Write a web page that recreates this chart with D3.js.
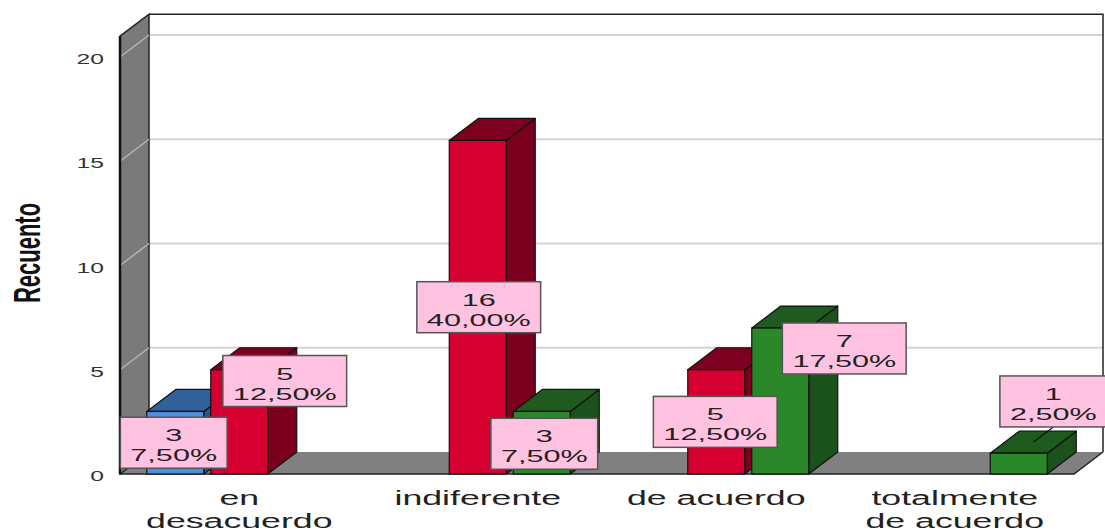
<!DOCTYPE html>
<html>
<head>
<meta charset="utf-8">
<script src="https://cdn.jsdelivr.net/npm/d3@7"></script>
<style>
  html, body { margin: 0; padding: 0; background: #ffffff; }
  svg { display: block; }
  text { font-family: "Liberation Sans", Arial, sans-serif; }
</style>
</head>
<body>
<svg id="chart" width="1105" height="531"></svg>
<script>
// ---- data ----
const categories = ["en desacuerdo", "indiferente", "de acuerdo", "totalmente de acuerdo"];
const categoryLines = [["en", "desacuerdo"], ["indiferente"], ["de acuerdo"], ["totalmente", "de acuerdo"]];
const seriesNames = ["serie1", "serie2", "serie3"];
const blueValues = [3, 0, 0, 0];
const redValues = [5, 16, 5, 0];
const greenValues = [0, 3, 7, 1];
const yTicks = [0, 5, 10, 15, 20];
const yMax = 21;
const yTitle = "Recuento";

// ---- label layout (not data): offset in px from bar centre, centre height in axis units ----
const labelLayout = [
  { s: 0, c: 0, dx: -1.5, v: 1.5 },
  { s: 1, c: 0, dx: 45.5, v: 4.46 },
  { s: 1, c: 1, dx: 1, v: 8 },
  { s: 2, c: 1, dx: 2.5, v: 1.45 },
  { s: 1, c: 2, dx: -1, v: 2.5 },
  { s: 2, c: 2, dx: 64, v: 6.02 },
  { s: 2, c: 3, dx: 34.5, v: 3.48, leader: true }
];

// ---- styles ----
const seriesValues = [blueValues, redValues, greenValues];
const frontColors = ["#4d8fdf", "#d60030", "#2a882a"];
const topColors = ["#31619b", "#7e0020", "#1f5a1f"];
const sideColors = ["#2a5488", "#7a001e", "#1b521b"];
const SX = 1.7;      // horizontal stretch of the picture's text
const SXL = 1.8;     // stretch for value labels
const DX = 29, DY = 22;
const total = d3.sum(seriesValues.flat());
const loc = d3.formatLocale({ decimal: ",", thousands: ".", grouping: [3], currency: ["", "€"], percent: "%" });
const fmtPct = loc.format(".2%");

const svg = d3.select("#chart");
svg.append("rect").attr("width", 1105).attr("height", 531).attr("fill", "#ffffff");

const y = d3.scaleLinear().domain([0, yMax]).range([474, 474 - yMax * 20.85]);
const xCat = d3.scaleBand().domain(categories).range([120, 1074]);
const xSer = d3.scaleBand().domain(seriesNames).range([-92.5, 92.5]).paddingInner(0.11);

const xL = xCat.range()[0], xR = xCat.range()[1];
const yB = y(0), yT = y(yMax);

// back wall
svg.append("rect")
  .attr("x", xL + DX).attr("y", yT - DY)
  .attr("width", xR - xL).attr("height", yB - yT)
  .attr("fill", "#ffffff");
svg.append("g").selectAll("line").data(yTicks.filter(t => t > 0)).join("line")
  .attr("x1", xL + DX).attr("x2", xR + DX)
  .attr("y1", d => y(d) - DY).attr("y2", d => y(d) - DY)
  .attr("stroke", "#d4d4d4").attr("stroke-width", 2);
svg.append("path")
  .attr("d", `M${xL + DX},${yT - DY} L${xR + DX},${yT - DY} L${xR + DX},${yB - DY}`)
  .attr("fill", "none").attr("stroke", "#222").attr("stroke-width", 1.5);

// floor
svg.append("path")
  .attr("d", `M${xL},${yB} L${xR},${yB} L${xR + DX},${yB - DY} L${xL + DX},${yB - DY} Z`)
  .attr("fill", "#808080");
svg.append("path")
  .attr("d", `M${xL},${yB} L${xR},${yB} L${xR + DX},${yB - DY}`)
  .attr("fill", "none").attr("stroke", "#222").attr("stroke-width", 1.5);

// left wall
svg.append("path")
  .attr("d", `M${xL},${yT} L${xL + DX},${yT - DY} L${xL + DX},${yB - DY} L${xL},${yB} Z`)
  .attr("fill", "#7a7a7a").attr("stroke", "#222").attr("stroke-width", 1.5);
svg.append("g").selectAll("line").data(yTicks.filter(t => t > 0)).join("line")
  .attr("x1", xL).attr("x2", xL + DX)
  .attr("y1", d => y(d)).attr("y2", d => y(d) - DY)
  .attr("stroke", "#b5b5b5").attr("stroke-width", 1.5);
svg.append("line")
  .attr("x1", xL).attr("x2", xL).attr("y1", yT).attr("y2", yB)
  .attr("stroke", "#111").attr("stroke-width", 2.5);

// bars
const bars = [];
categories.forEach((c, ci) => {
  seriesNames.forEach((s, si) => {
    const v = seriesValues[si][ci];
    if (v > 0) bars.push({ c, ci, s, si, v });
  });
});
function barGeom(d) {
  const bx = xCat(d.c) + xCat.bandwidth() / 2 + xSer(d.s);
  const bw = xSer.bandwidth();
  return { bx, bw, top: y(d.v), base: y(0) };
}
const gBars = svg.append("g");
bars.forEach(d => {
  const g = barGeom(d);
  const grp = gBars.append("g");
  grp.append("path")
    .attr("d", `M${g.bx + g.bw},${g.top} L${g.bx + g.bw + DX},${g.top - DY} L${g.bx + g.bw + DX},${g.base - DY} L${g.bx + g.bw},${g.base} Z`)
    .attr("fill", sideColors[d.si]).attr("stroke", "#111").attr("stroke-width", 1.2).attr("stroke-linejoin", "round");
  grp.append("path")
    .attr("d", `M${g.bx},${g.top} L${g.bx + g.bw},${g.top} L${g.bx + g.bw + DX},${g.top - DY} L${g.bx + DX},${g.top - DY} Z`)
    .attr("fill", topColors[d.si]).attr("stroke", "#111").attr("stroke-width", 1.2).attr("stroke-linejoin", "round");
  grp.append("rect")
    .attr("x", g.bx).attr("y", g.top).attr("width", g.bw).attr("height", g.base - g.top)
    .attr("fill", frontColors[d.si]).attr("stroke", "#111").attr("stroke-width", 1.2);
});

// y tick labels
svg.append("g").selectAll("text").data(yTicks).join("text")
  .attr("transform", d => `translate(104,${y(d) + 7}) scale(${SX},1)`)
  .attr("text-anchor", "end")
  .attr("font-size", 14.5).attr("fill", "#333")
  .text(d => d);

// y title
svg.append("text")
  .attr("transform", `translate(27,253) rotate(-90) scale(1,${SX})`)
  .attr("text-anchor", "middle").attr("dominant-baseline", "central")
  .attr("font-size", 22).attr("font-weight", "bold").attr("fill", "#111")
  .text(yTitle);

// category labels
categories.forEach((c, ci) => {
  const cx = xCat(c) + xCat.bandwidth() / 2;
  categoryLines[ci].forEach((line, li) => {
    svg.append("text")
      .attr("transform", `translate(${cx},${505 + li * 23}) scale(${SX},1)`)
      .attr("text-anchor", "middle")
      .attr("font-size", 21).attr("fill", "#222")
      .text(line);
  });
});

// value labels
const gLab = svg.append("g");
labelLayout.forEach(L => {
  const d = { c: categories[L.c], ci: L.c, s: seriesNames[L.s], si: L.s, v: seriesValues[L.s][L.c] };
  const g = barGeom(d);
  const cx = g.bx + g.bw / 2 + L.dx;
  const cy = y(L.v);
  const bh = 51;
  const lines = [String(d.v), fmtPct(d.v / total)];
  const grp = gLab.append("g");
  const box = grp.append("rect");
  const texts = lines.map((t, i) => grp.append("text")
    .attr("transform", `translate(${cx},${cy - bh / 2 + 24 + i * 20}) scale(${SXL},1)`)
    .attr("text-anchor", "middle")
    .attr("font-size", 17).attr("fill", "#222")
    .text(t));
  const tw = d3.max(texts, t => t.node().getComputedTextLength()) * SXL;
  const bwid = tw + 20;
  box.attr("x", cx - bwid / 2).attr("y", cy - bh / 2).attr("width", bwid).attr("height", bh)
    .attr("fill", "#ffc2e0").attr("stroke", "#555").attr("stroke-width", 1.5);
  if (L.leader) {
    grp.insert("line", "rect")
      .attr("x1", cx).attr("y1", cy + bh / 2)
      .attr("x2", g.bx + g.bw / 2 + DX / 2).attr("y2", g.top - DY / 2)
      .attr("stroke", "#111").attr("stroke-width", 1.2);
  }
});
</script>
</body>
</html>
